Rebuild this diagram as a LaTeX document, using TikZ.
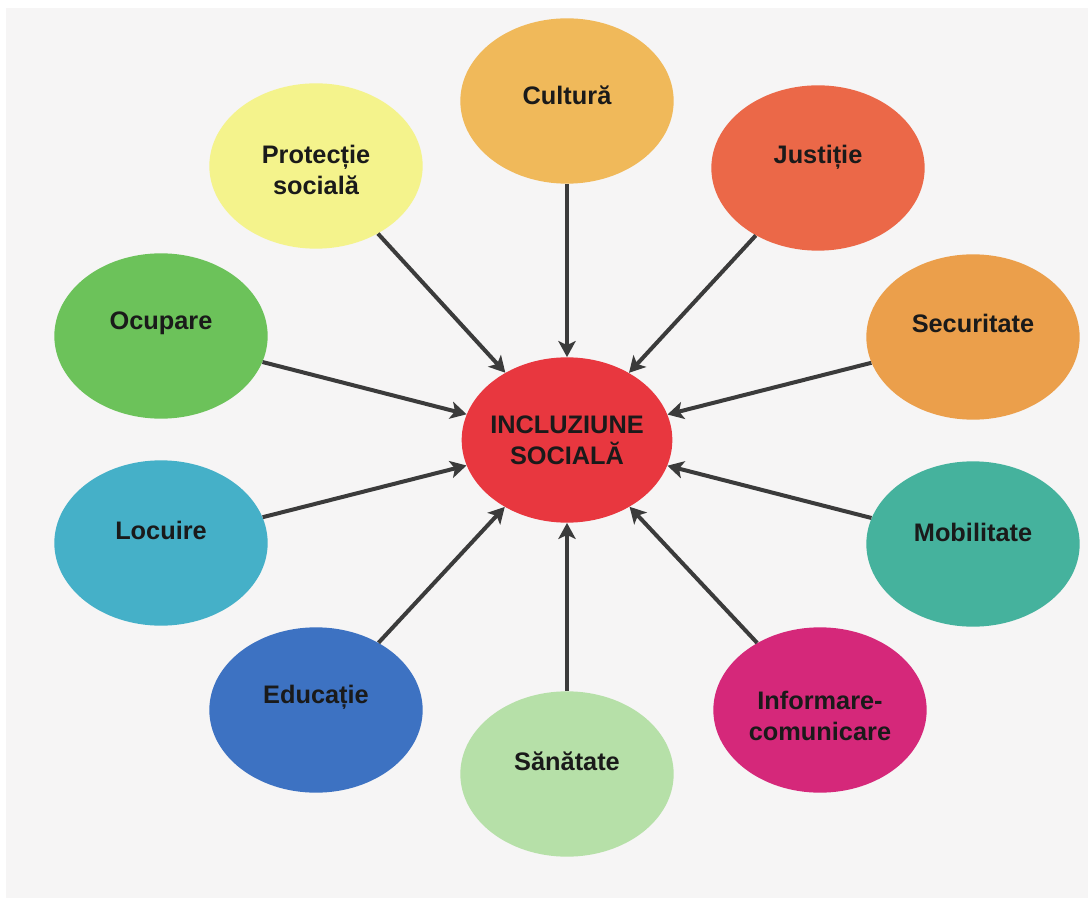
\documentclass[tikz,border=0pt]{standalone}
\usepackage{fontspec}
\setmainfont{Liberation Sans}
\usetikzlibrary{shapes.geometric,arrows.meta}
\definecolor{bgc}{HTML}{F6F5F5}
\definecolor{cCul}{HTML}{F0B95A}
\definecolor{cPro}{HTML}{F4F38C}
\definecolor{cJus}{HTML}{EB6848}
\definecolor{cOcu}{HTML}{6CC25A}
\definecolor{cSec}{HTML}{EB9F4B}
\definecolor{cLoc}{HTML}{45B0C8}
\definecolor{cMob}{HTML}{45B29D}
\definecolor{cEdu}{HTML}{3D72C2}
\definecolor{cInf}{HTML}{D5287A}
\definecolor{cSan}{HTML}{B6E0A8}
\definecolor{cInc}{HTML}{E8373F}
\definecolor{arr}{HTML}{3B3B3B}
\definecolor{txt}{HTML}{1A1A1A}
\tikzset{
  bub/.style={ellipse, inner sep=0pt, minimum width=160pt, minimum height=124pt},
  lbl/.style={font=\fontsize{19}{23}\selectfont\bfseries, text=txt, align=center, inner sep=0pt},
  conn/.style={draw=arr, line width=3pt, -{Stealth[length=12pt,width=13pt,inset=3pt]}}
}
\begin{document}
\begin{tikzpicture}[x=0.75pt,y=-0.75pt]
\useasboundingbox (0,0) rectangle (1088,898);
\fill[white] (0,0) rectangle (1088,898);
\fill[bgc] (6,8) rectangle (1088,898);
% central node
\node[bub, fill=cInc, minimum width=158pt] (inc) at (567,440) {};
% outer nodes
\node[bub, fill=cCul] (cul) at (567,101) {};
\node[bub, fill=cPro] (pro) at (316,166) {};
\node[bub, fill=cJus] (jus) at (818,168) {};
\node[bub, fill=cOcu] (ocu) at (161,336) {};
\node[bub, fill=cSec] (sec) at (973,337) {};
\node[bub, fill=cLoc] (loc) at (161,543) {};
\node[bub, fill=cMob] (mob) at (973,544) {};
\node[bub, fill=cEdu] (edu) at (316,710) {};
\node[bub, fill=cInf] (inf) at (820,710) {};
\node[bub, fill=cSan] (san) at (567,774) {};
% labels
\node[lbl] (incT) at (567,440) {INCLUZIUNE\\SOCIALĂ};
\node[lbl] (culT) at (567,95) {Cultură};
\node[lbl] (proT) at (316,170) {Protecție\\socială};
\node[lbl] (jusT) at (818,157) {Justiție};
\node[lbl] (ocuT) at (161,323) {Ocupare};
\node[lbl] (secT) at (973,323) {Securitate};
\node[lbl] (locT) at (161,530) {Locuire};
\node[lbl] (mobT) at (973,532) {Mobilitate};
\node[lbl] (eduT) at (316,697) {Educație};
\node[lbl] (infT) at (820,716) {Informare-\\comunicare};
\node[lbl] (sanT) at (567,761) {Sănătate};
% connectors
\foreach \n in {cul,pro,jus,ocu,sec,loc,mob,edu,inf,san}
  \draw[conn] (\n) -- (inc);
\end{tikzpicture}
\end{document}
